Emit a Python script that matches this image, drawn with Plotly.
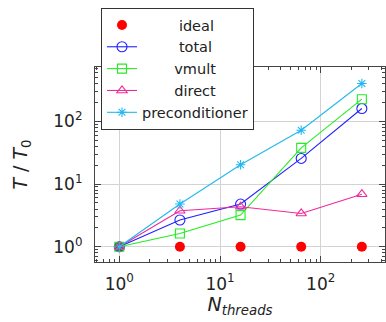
import plotly.graph_objects as go

threads = [1, 4, 16, 64, 256]
ideal = [1, 1, 1, 1, 1]
total = [1.0, 2.67, 4.8, 25.7, 161]
vmult = [1.0, 1.63, 3.2, 37.9, 227]
direct = [1.0, 3.75, 4.35, 3.4, 6.9]
precond = [1.0, 4.8, 20.4, 72.6, 404]

names = ["ideal", "total", "vmult", "direct", "preconditioner"]
pads = [8, 8, 7, 7, 0]
tick_vals = [1, 10, 100]
tick_text = ["10<sup>0</sup>", "10<sup>1</sup>", "10<sup>2</sup>"]

FONT = "DejaVu Sans"

def label(i):
    return "\u00a0" * pads[i] + names[i]

fig = go.Figure()
fig.add_trace(go.Scatter(x=threads, y=ideal, mode="markers", name=label(0),
                         marker=dict(symbol="circle", size=10, color="#ff0000")))
fig.add_trace(go.Scatter(x=threads, y=total, mode="lines+markers", name=label(1),
                         line=dict(color="#2020ff", width=1.1),
                         marker=dict(symbol="circle-open", size=10, color="#2020ff", line=dict(width=1.1))))
fig.add_trace(go.Scatter(x=threads, y=vmult, mode="lines+markers", name=label(2),
                         line=dict(color="#22ee22", width=1.1),
                         marker=dict(symbol="square-open", size=9, color="#22ee22", line=dict(width=1.1))))
fig.add_trace(go.Scatter(x=threads, y=direct, mode="lines+markers", name=label(3),
                         line=dict(color="#ee2a9a", width=1.1),
                         marker=dict(symbol="triangle-up-open", size=9, color="#ee2a9a", line=dict(width=1.1))))
fig.add_trace(go.Scatter(x=threads, y=precond, mode="lines+markers", name=label(4),
                         line=dict(color="#22b8f0", width=1.1),
                         marker=dict(symbol="asterisk-open", size=8, color="#22b8f0", line=dict(width=1.1))))

axis_common = dict(
    type="log", showline=True, linecolor="#444", linewidth=1.2, mirror="allticks",
    ticks="inside", ticklen=6, tickcolor="#444", tickwidth=1,
    showgrid=True, gridcolor="#d3d3d3", gridwidth=1,
    tickvals=tick_vals, ticktext=tick_text,
    tickfont=dict(family=FONT, size=17, color="#222"),
    minor=dict(ticks="inside", ticklen=3, tickcolor="#444", dtick="D1", showgrid=False),
    zeroline=False,
)

fig.update_layout(
    width=386, height=322,
    margin=dict(l=95, r=1, t=67, b=60),
    paper_bgcolor="white", plot_bgcolor="white",
    font=dict(family=FONT, color="#222"),
    showlegend=True,
    legend=dict(x=0.0207, y=1.3026, xanchor="left", yanchor="top",
                bgcolor="white", bordercolor="#333", borderwidth=1,
                font=dict(family=FONT, size=14.5, color="#222"),
                itemwidth=30, tracegroupgap=0),
    xaxis=dict(axis_common, range=[-0.241, 2.638], ticklabelstandoff=6,
               title=dict(text="<i>N</i><sub><i>threads</i></sub>", font=dict(family=FONT, size=19), standoff=5)),
    yaxis=dict(axis_common, range=[-0.244, 2.87], ticklabelstandoff=8,
               title=dict(text="<i>T</i> / <i>T</i><sub>0</sub>", font=dict(family=FONT, size=19), standoff=20)),
)

fig.write_html("out.html")
